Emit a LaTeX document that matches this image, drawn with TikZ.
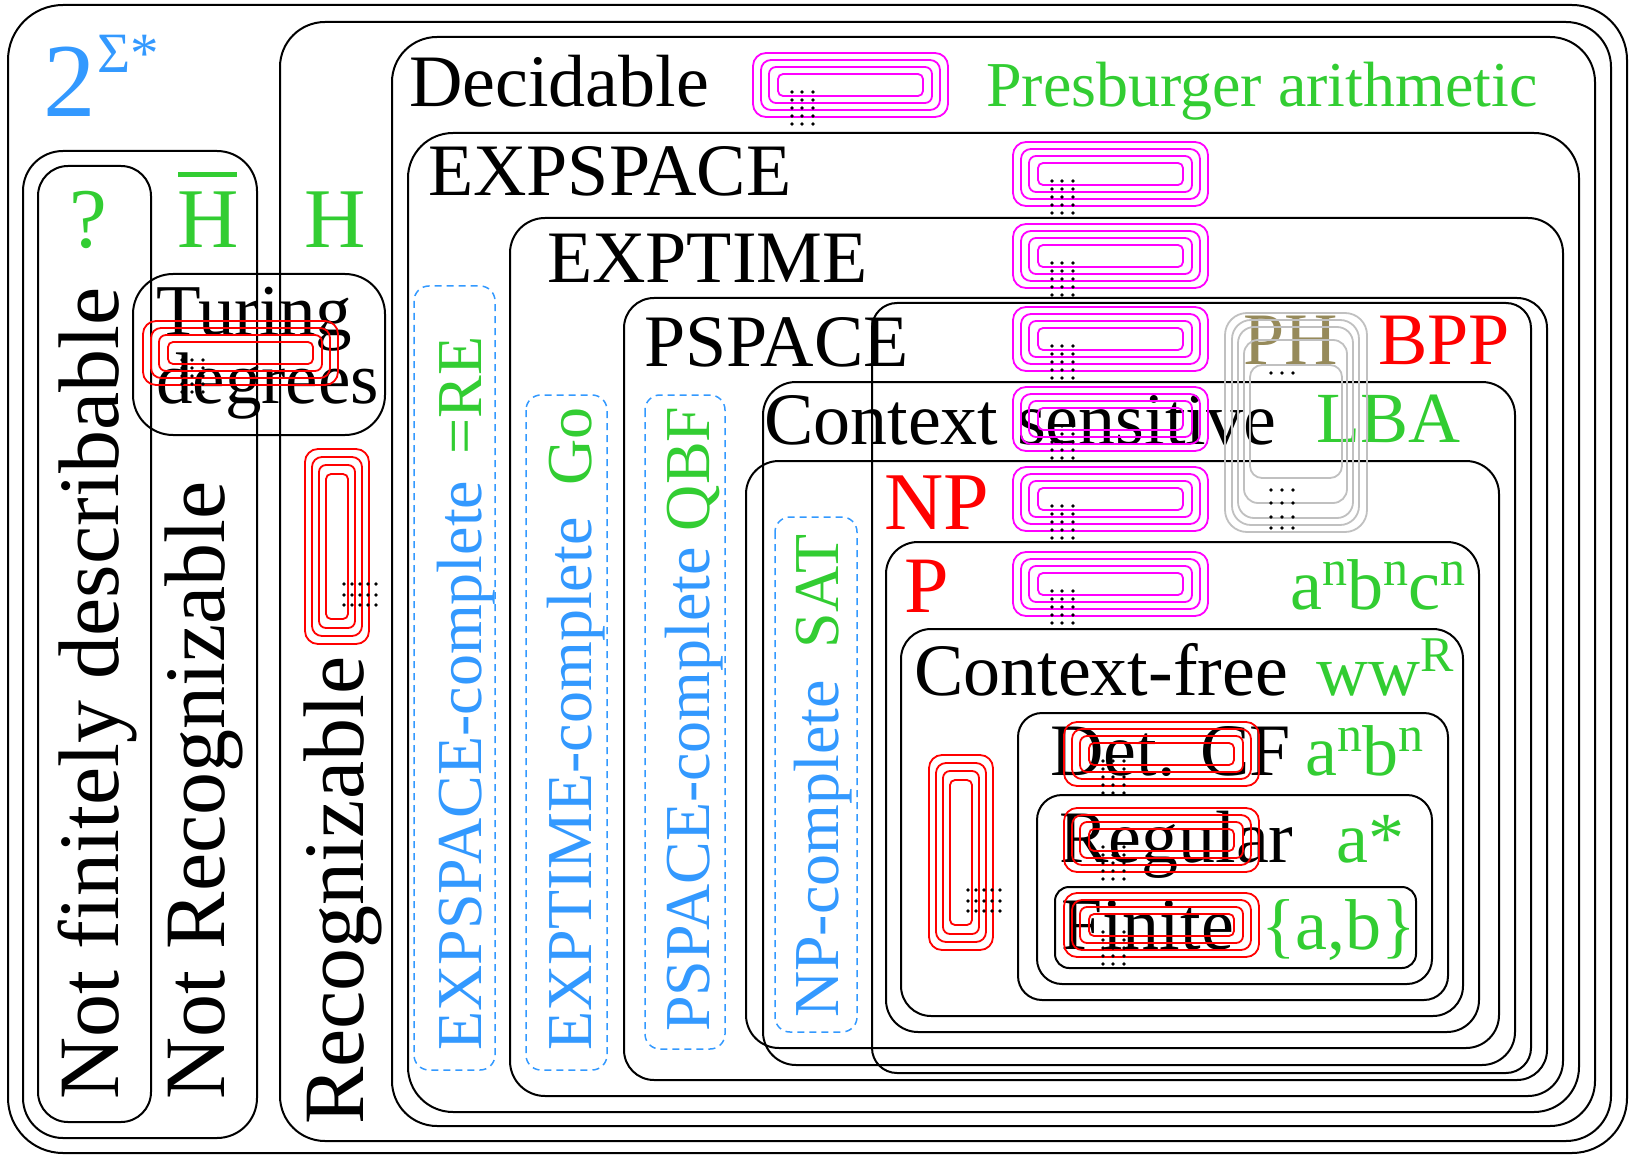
\documentclass[tikz,border=0pt]{standalone}
\usepackage{fontspec}
\setmainfont{Liberation Serif}
\usetikzlibrary{positioning}
\definecolor{setblue}{RGB}{51,153,255}
\definecolor{langgreen}{RGB}{50,205,50}
\definecolor{phgold}{RGB}{150,138,90}
\definecolor{ringgray}{RGB}{192,192,192}
\definecolor{ringmagenta}{RGB}{255,0,255}
\definecolor{ringred}{RGB}{255,0,0}

% raised exponent in the language labels
\newcommand{\upn}[1]{\raisebox{24pt}{\fontsize{50}{50}\selectfont #1}}
% four nested rings with the dotted tail
\newcommand{\nestrings}[2]{%
  \begin{scope}[#1]
    \draw[ring, draw=#2, rounded corners=13pt] (0,0) rectangle (195,64);
    \draw[ring, draw=#2, rounded corners=10pt] (8,7) rectangle (187,57);
    \draw[ring, draw=#2, rounded corners=7pt] (16,14) rectangle (179,50);
    \draw[ring, draw=#2, rounded corners=5pt] (25,21) rectangle (170,43);
    \foreach \dotx in {39,49,60}
      \foreach \doty in {39,47,55,63,71}
        \fill[black] (\dotx,\doty) circle (1.8pt);
  \end{scope}}

\begin{document}
\begin{tikzpicture}[
    x=1pt, y=-1pt,
    region/.style={draw=black, line width=2pt},
    ring/.style={line width=1.8pt},
    dashbox/.style={draw=setblue, line width=1.5pt, dash pattern=on 7pt off 5pt, rounded corners=15pt},
    big/.style={inner sep=0pt, anchor=base west, font=\fontsize{74}{74}\selectfont},
    side/.style={inner sep=0pt, anchor=base west, rotate=90, font=\fontsize{86}{86}\selectfont},
    cplt/.style={inner sep=0pt, anchor=base west, rotate=90, text=setblue, font=\fontsize{64}{64}\selectfont},
    lang/.style={inner sep=0pt, anchor=base west, text=langgreen, font=\fontsize{72}{72}\selectfont}
]
    \useasboundingbox (0,0) rectangle (1632,1155);

    % regions
    \draw[region, rounded corners=55pt] (8,5) rectangle (1627,1153);
    \draw[region, rounded corners=40pt] (23,151) rectangle (257,1138);
    \draw[region, rounded corners=30pt] (38,166) rectangle (151,1122);
    \draw[region, rounded corners=40pt] (133,274) rectangle (385,435);
    \draw[region, rounded corners=45pt] (280,22) rectangle (1611,1141);
    \draw[region, rounded corners=45pt] (392,37) rectangle (1595,1126);
    \draw[region, rounded corners=45pt] (408,133) rectangle (1579,1112);
    \draw[region, rounded corners=35pt] (510,218) rectangle (1563,1096);
    \draw[region, rounded corners=30pt] (624,298) rectangle (1547,1080);
    \draw[region, rounded corners=25pt] (872,303) rectangle (1531,1073);
    \draw[region, rounded corners=33pt] (763,382) rectangle (1515,1065);
    \draw[region, rounded corners=33pt] (746,461) rectangle (1499,1048);
    \draw[region, rounded corners=32pt] (886,542) rectangle (1479,1032);
    \draw[region, rounded corners=30pt] (901,629) rectangle (1463,1016);
    \draw[region, rounded corners=24pt] (1018,713) rectangle (1448,1000);
    \draw[region, rounded corners=25pt] (1037,795) rectangle (1432,984);
    \draw[region, rounded corners=14pt] (1055,887) rectangle (1416,968);

    % complete problems
    \draw[dashbox] (414,286) rectangle (495,1070);
    \draw[dashbox] (526,395) rectangle (607,1070);
    \draw[dashbox] (645,395) rectangle (725,1049);
    \draw[dashbox] (775,517) rectangle (857,1032);

    % labels
    \node[inner sep=0pt, anchor=base west, text=setblue, font=\fontsize{105}{105}\selectfont] (pow) at (43,117) {2};
    \node[inner sep=0pt, anchor=base west, text=setblue, font=\fontsize{57}{57}\selectfont] (powexp) at (97,73) {Σ*};
    \node[lang, font=\fontsize{85}{85}\selectfont] (unk) at (69,248) {?};
    \node[lang, font=\fontsize{85}{85}\selectfont] (hbar) at (177,248) {\makebox[0pt][l]{\hspace{1pt}\raisebox{71pt}{\rule{59pt}{5pt}}}H};
    \node[lang, font=\fontsize{85}{85}\selectfont] (halt) at (304,248) {H};
    \node[side] (nfd) at (118,1100) {Not finitely describable};
    \node[side] (nrec) at (224,1100) {Not Recognizable};
    \node[side] (recog) at (363,1125) {Recognizable};
    \node[inner sep=0pt, anchor=base west, align=left, font=\fontsize{73}{63}\selectfont] (turing) at (156,403) {Turing\\degrees};

    \node[big] (dec) at (409,107) {Decidable};
    \node[lang, font=\fontsize{64}{64}\selectfont] (presb) at (986,107) {Presburger arithmetic};
    \node[big] (exps) at (428,196) {EXPSPACE};
    \node[big] (expt) at (547,283) {EXPTIME};
    \node[big] (pspc) at (644,366) {PSPACE};
    \node[big, text=phgold] (ph) at (1243,364) {PH};
    \node[big, text=ringred] (bpp) at (1378,364) {BPP};
    \node[big] (csens) at (764,444) {Context sensitive};
    \node[lang] (lba) at (1316,442) {LBA};
    \node[big, text=ringred, font=\fontsize{82}{82}\selectfont] (np) at (884,529) {NP};
    \node[big, text=ringred, font=\fontsize{80}{80}\selectfont] (pcls) at (904,612) {P};
    \node[lang] (anbncn) at (1290,609) {a\upn{n}b\upn{n}c\upn{n}};
    \node[big] (cfree) at (914,695) {Context-free};
    \node[lang] (wwr) at (1316,695) {ww\upn{R}};
    \node[big] (detcf) at (1050,775) {Det. CF};
    \node[lang] (anbn) at (1305,775) {a\upn{n}b\upn{n}};
    \node[big] (regl) at (1059,862) {Regular};
    \node[lang] (astar) at (1336,862) {a*};
    \node[big] (fin) at (1061,949) {Finite};
    \node[lang] (fab) at (1261,949) {\{a,b\}};

    \node[cplt] (expsc) at (481,1051) {EXPSPACE-complete\hspace{26pt}\textcolor{langgreen}{=RE}};
    \node[cplt] (exptc) at (591,1051) {EXPTIME-complete\hspace{32pt}\textcolor{langgreen}{Go}};
    \node[cplt] (pspcc) at (709,1032) {PSPACE-complete \textcolor{langgreen}{QBF}};
    \node[cplt] (npc) at (838,1018) {NP-complete\hspace{32pt}\textcolor{langgreen}{SAT}};

    % infinite chains of classes
    \nestrings{shift={(753,53)}}{ringmagenta}
    \nestrings{shift={(1013,142)}}{ringmagenta}
    \nestrings{shift={(1013,224)}}{ringmagenta}
    \nestrings{shift={(1013,307)}}{ringmagenta}
    \nestrings{shift={(1013,387)}}{ringmagenta}
    \nestrings{shift={(1013,467)}}{ringmagenta}
    \nestrings{shift={(1013,552)}}{ringmagenta}
    \nestrings{shift={(143,321)}}{ringred}
    \nestrings{shift={(1064,722)}}{ringred}
    \nestrings{shift={(1064,808)}}{ringred}
    \nestrings{shift={(1064,893)}}{ringred}
    \nestrings{shift={(305,644)}, rotate=90}{ringred}
    \nestrings{shift={(929,950)}, rotate=90}{ringred}

    % polynomial hierarchy
    \draw[ring, draw=ringgray, rounded corners=22pt] (1225,313) rectangle (1367,532);
    \draw[ring, draw=ringgray, rounded corners=19pt] (1232,320) rectangle (1359,525);
    \draw[ring, draw=ringgray, rounded corners=16pt] (1238,327) rectangle (1353,518);
    \draw[ring, draw=ringgray, rounded corners=14pt] (1244,340) rectangle (1347,503);
    \draw[ring, draw=ringgray, rounded corners=12pt] (1250,365) rectangle (1342,478);
    \foreach \dotx in {1271,1282,1293} {
      \fill[black] (\dotx,373) circle (1.8pt);
      \foreach \doty in {490,503,517,528}
        \fill[black] (\dotx,\doty) circle (1.8pt);
    }
\end{tikzpicture}
\end{document}
